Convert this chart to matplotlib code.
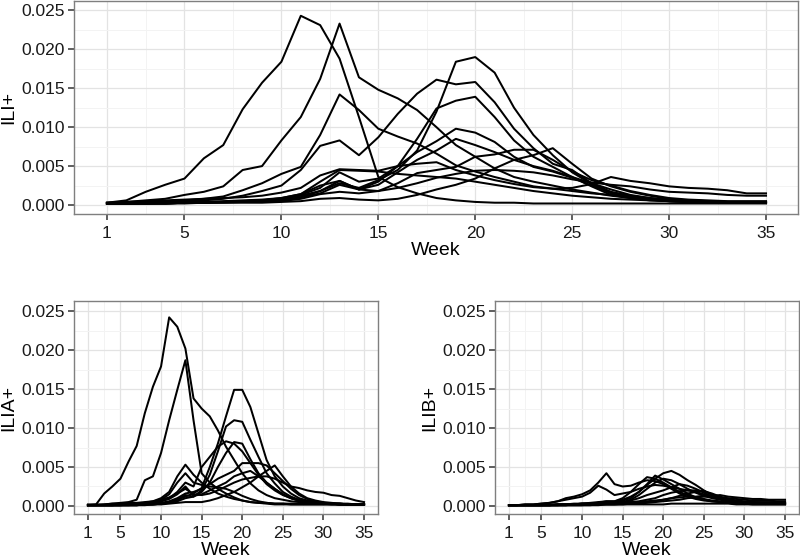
import numpy as np
import matplotlib
matplotlib.use('Agg')
import matplotlib.pyplot as plt

plt.rcParams['font.family'] = ['Liberation Sans', 'DejaVu Sans']

# weeks of the season
weeks = np.arange(1, 36)
SCALE = 1e-4  # values below in units of 1e-4

# ILI+ (top panel), one list per season
ili = [
    [3, 6, 17, 26, 34, 60, 77, 123, 157, 184, 243, 231, 188, 113, 36, 23, 15, 9, 6, 4, 3, 3, 2, 2, 2, 2, 2, 2, 2, 2, 2, 2, 2, 2, 2],
    [3, 4, 6, 8, 13, 17, 24, 45, 50, 83, 113, 162, 233, 164, 148, 137, 122, 100, 77, 62, 47, 36, 30, 25, 20, 16, 12, 9, 7, 6, 5, 5, 4, 4, 4],
    [2, 3, 4, 5, 6, 8, 11, 19, 28, 40, 49, 90, 142, 122, 98, 88, 79, 66, 51, 43, 36, 30, 24, 21, 18, 15, 13, 10, 8, 6, 5, 5, 4, 4, 4],
    [2, 2, 3, 4, 5, 6, 8, 12, 18, 25, 45, 76, 83, 64, 87, 117, 143, 161, 155, 158, 132, 98, 73, 53, 45, 28, 17, 12, 9, 7, 6, 5, 4, 4, 4],
    [2, 2, 2, 3, 3, 4, 4, 5, 6, 8, 12, 18, 28, 22, 32, 45, 70, 120, 184, 190, 170, 125, 90, 64, 42, 27, 15, 10, 7, 5, 4, 4, 3, 3, 3],
    [2, 2, 2, 2, 3, 3, 4, 4, 5, 6, 10, 15, 26, 20, 30, 50, 85, 124, 134, 139, 113, 83, 62, 49, 36, 24, 13, 9, 6, 5, 4, 3, 3, 3, 3],
    [2, 2, 2, 3, 3, 4, 4, 5, 6, 8, 13, 22, 42, 30, 34, 50, 68, 82, 98, 93, 81, 62, 49, 43, 35, 25, 16, 10, 7, 5, 4, 4, 3, 3, 3],
    [2, 2, 2, 2, 3, 3, 4, 4, 5, 6, 10, 18, 31, 20, 26, 42, 58, 70, 85, 77, 68, 58, 50, 44, 36, 28, 20, 13, 9, 6, 5, 4, 4, 3, 3],
    [2, 2, 2, 2, 2, 3, 3, 3, 3, 4, 5, 8, 9, 7, 6, 8, 13, 20, 26, 34, 47, 58, 64, 73, 53, 34, 24, 17, 12, 8, 6, 5, 4, 4, 4],
    [2, 2, 2, 2, 3, 3, 3, 4, 4, 5, 8, 14, 17, 15, 18, 28, 41, 45, 49, 62, 65, 71, 71, 58, 43, 32, 25, 18, 13, 9, 7, 6, 5, 5, 5],
    [3, 4, 5, 6, 7, 8, 9, 10, 12, 16, 22, 38, 46, 45, 44, 50, 53, 55, 45, 38, 32, 27, 23, 21, 22, 27, 36, 31, 28, 24, 22, 21, 19, 15, 15],
    [2, 2, 3, 3, 4, 4, 5, 6, 7, 9, 14, 25, 31, 20, 18, 22, 28, 35, 40, 44, 45, 44, 42, 38, 33, 29, 26, 24, 20, 17, 16, 15, 13, 12, 12],
    [2, 2, 2, 2, 3, 3, 4, 5, 6, 9, 14, 30, 45, 44, 43, 40, 38, 36, 34, 30, 26, 22, 18, 15, 12, 10, 8, 7, 6, 5, 4, 4, 4, 3, 3],
]

# ILIA+ (bottom left)
ilia = [
    [1, 2, 16, 25, 35, 57, 77, 119, 153, 179, 242, 230, 202, 138, 125, 115, 97, 76, 59, 42, 29, 20, 14, 10, 8, 6, 5, 4, 3, 3, 3, 2, 2, 2, 2],
    [1, 1, 2, 3, 4, 5, 8, 33, 38, 68, 110, 149, 187, 110, 42, 30, 22, 16, 11, 7, 5, 4, 3, 2, 2, 2, 2, 2, 2, 2, 2, 2, 2, 2, 2],
    [1, 1, 1, 1, 1, 1, 1, 2, 2, 3, 5, 8, 12, 16, 23, 50, 80, 115, 149, 149, 127, 93, 59, 38, 25, 16, 10, 7, 5, 4, 3, 3, 2, 2, 2],
    [1, 1, 1, 1, 1, 1, 1, 2, 2, 3, 5, 8, 14, 12, 20, 40, 70, 102, 110, 108, 85, 63, 42, 29, 18, 12, 8, 6, 4, 3, 3, 2, 2, 2, 2],
    [1, 1, 1, 1, 1, 2, 2, 3, 4, 6, 10, 18, 30, 25, 50, 63, 76, 83, 80, 70, 55, 40, 28, 20, 14, 10, 7, 5, 4, 3, 3, 2, 2, 2, 2],
    [1, 1, 1, 1, 1, 1, 1, 2, 2, 3, 4, 6, 10, 12, 18, 30, 50, 68, 82, 80, 60, 42, 30, 22, 15, 10, 7, 5, 4, 3, 2, 2, 2, 2, 2],
    [1, 1, 1, 1, 1, 1, 2, 2, 3, 4, 6, 10, 16, 18, 22, 28, 35, 40, 45, 55, 55, 55, 52, 42, 32, 22, 14, 9, 6, 4, 3, 3, 2, 2, 2],
    [1, 1, 1, 1, 1, 1, 1, 1, 2, 2, 3, 4, 5, 5, 5, 7, 10, 14, 18, 24, 30, 38, 45, 52, 38, 25, 16, 10, 7, 5, 4, 3, 3, 2, 2],
    [1, 1, 1, 1, 2, 2, 3, 4, 6, 10, 18, 38, 53, 40, 30, 22, 16, 12, 9, 7, 5, 4, 4, 3, 3, 3, 3, 3, 3, 3, 3, 2, 2, 2, 2],
    [1, 1, 1, 1, 2, 2, 3, 4, 5, 8, 15, 30, 42, 30, 27, 25, 24, 22, 18, 13, 9, 6, 4, 3, 3, 2, 2, 2, 2, 2, 2, 2, 2, 2, 2],
    [1, 1, 1, 1, 1, 2, 2, 3, 4, 6, 9, 15, 25, 13, 15, 20, 25, 30, 38, 42, 45, 38, 30, 22, 15, 10, 7, 5, 4, 3, 3, 3, 2, 2, 2],
    [2, 2, 2, 3, 3, 4, 4, 5, 6, 8, 11, 16, 22, 15, 14, 16, 20, 25, 30, 34, 36, 38, 38, 35, 30, 25, 23, 20, 18, 17, 14, 13, 10, 7, 5],
]

# ILIB+ (bottom right)
ilib = [
    [1, 1, 2, 2, 3, 4, 6, 10, 12, 15, 20, 30, 42, 28, 25, 26, 30, 33, 32, 28, 22, 16, 12, 9, 7, 6, 5, 4, 3, 3, 2, 2, 2, 2, 2],
    [1, 1, 2, 2, 3, 4, 6, 8, 10, 12, 17, 26, 21, 14, 16, 18, 22, 25, 27, 26, 24, 22, 20, 18, 15, 12, 10, 8, 6, 5, 4, 4, 3, 3, 3],
    [1, 1, 1, 1, 1, 2, 2, 2, 3, 3, 4, 5, 6, 6, 8, 12, 18, 27, 35, 42, 45, 40, 33, 27, 20, 14, 10, 8, 6, 5, 5, 5, 5, 5, 5],
    [1, 1, 1, 1, 1, 1, 2, 2, 2, 3, 3, 4, 5, 5, 7, 10, 18, 28, 39, 34, 28, 22, 16, 11, 8, 6, 5, 4, 4, 3, 3, 3, 3, 3, 3],
    [1, 1, 1, 1, 1, 1, 2, 2, 2, 3, 3, 4, 6, 6, 10, 18, 28, 37, 35, 30, 24, 18, 14, 11, 9, 7, 6, 5, 4, 4, 3, 3, 3, 3, 3],
    [1, 1, 1, 1, 1, 1, 1, 2, 2, 2, 3, 3, 4, 4, 5, 8, 14, 22, 30, 35, 33, 28, 22, 17, 13, 10, 8, 6, 5, 4, 4, 3, 3, 3, 3],
    [1, 1, 1, 1, 1, 1, 1, 1, 2, 2, 2, 3, 4, 4, 4, 5, 6, 8, 10, 14, 17, 19, 20, 20, 19, 16, 12, 9, 7, 6, 5, 4, 4, 4, 4],
    [1, 1, 1, 1, 1, 1, 1, 1, 1, 1, 2, 2, 2, 2, 3, 3, 4, 5, 6, 8, 10, 13, 16, 18, 19, 15, 11, 8, 6, 5, 4, 4, 4, 4, 4],
    [1, 1, 1, 1, 1, 1, 1, 1, 2, 2, 2, 3, 4, 4, 5, 7, 10, 14, 17, 20, 24, 28, 26, 22, 17, 12, 9, 7, 5, 4, 4, 3, 3, 3, 3],
    [1, 1, 1, 1, 1, 1, 1, 1, 1, 1, 1, 2, 2, 2, 2, 3, 3, 4, 5, 6, 7, 8, 10, 11, 12, 12, 11, 10, 9, 8, 7, 7, 7, 6, 6],
    [1, 1, 1, 1, 1, 1, 2, 2, 2, 3, 3, 4, 5, 4, 4, 5, 5, 6, 7, 8, 10, 11, 12, 12, 13, 13, 14, 12, 11, 10, 9, 9, 8, 8, 8],
    [1, 1, 1, 1, 1, 1, 1, 1, 1, 1, 1, 1, 2, 2, 2, 2, 2, 2, 2, 2, 3, 3, 3, 3, 3, 3, 3, 3, 2, 2, 2, 2, 2, 2, 2],
]

xticks = [1, 5, 10, 15, 20, 25, 30, 35]
yticks = [0.0, 0.005, 0.010, 0.015, 0.020, 0.025]


def style(ax, ylabel, xlim, ylim):
    # looks like ggplot theme_bw
    ax.set_xlim(*xlim)
    ax.set_ylim(*ylim)
    ax.set_xticks(xticks)
    ax.set_xticks([3, 7.5, 12.5, 17.5, 22.5, 27.5, 32.5], minor=True)
    ax.set_yticks(yticks)
    ax.set_yticklabels(['%.3f' % v for v in yticks])
    ax.set_yticks([0.0025, 0.0075, 0.0125, 0.0175, 0.0225], minor=True)
    ax.grid(which='major', color='#E3E3E3', linewidth=0.9)
    ax.grid(which='minor', color='#F3F3F3', linewidth=0.7)
    ax.set_axisbelow(True)
    for sp in ax.spines.values():
        sp.set_color('#7F7F7F')
        sp.set_linewidth(1.0)
    ax.tick_params(which='minor', length=0)
    ax.tick_params(which='major', length=4.5, width=1.1, color='#333333',
                   labelsize=12.5, labelcolor='#1A1A1A', pad=2)
    ax.tick_params(axis='x', pad=4)
    ax.set_xlabel('Week', fontsize=14, labelpad=1)
    ax.set_ylabel(ylabel, fontsize=14, labelpad=3)


fig = plt.figure(figsize=(8, 5.6), dpi=100)

ax_top = fig.add_axes([74 / 800, 1 - 214 / 560, 724 / 800, 213 / 560])
ax_a = fig.add_axes([74 / 800, 1 - 514 / 560, 304 / 800, 213 / 560])
ax_b = fig.add_axes([495 / 800, 1 - 514 / 560, 304 / 800, 213 / 560])

for s in ili:
    ax_top.plot(weeks, np.array(s) * SCALE, color='black', linewidth=1.45)
for s in ilia:
    ax_a.plot(weeks, np.array(s) * SCALE, color='black', linewidth=1.45)
for s in ilib:
    ax_b.plot(weeks, np.array(s) * SCALE, color='black', linewidth=1.45)

style(ax_top, 'ILI+', (-0.7, 36.65), (-0.00115, 0.0262))
style(ax_a, 'ILIA+', (-0.72, 36.72), (-0.00103, 0.0263))
style(ax_b, 'ILIB+', (-0.72, 36.72), (-0.00103, 0.0263))

fig.savefig('out.png', dpi=100)
